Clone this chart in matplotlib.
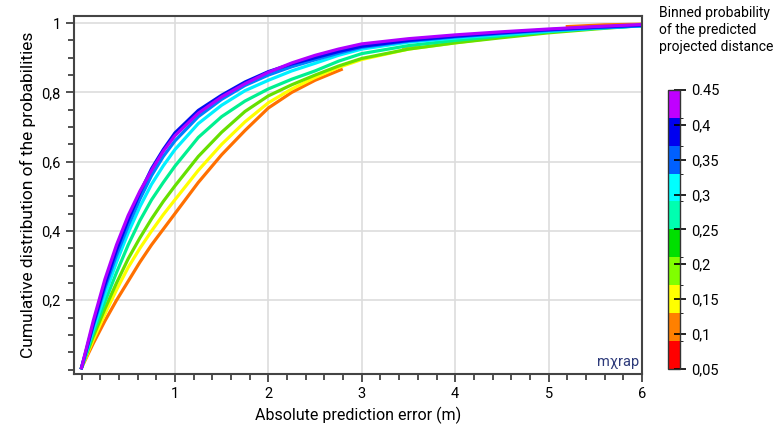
import numpy as np
import matplotlib
matplotlib.use("Agg")
import matplotlib.pyplot as plt
from matplotlib.colors import ListedColormap, BoundaryNorm
from matplotlib.ticker import MultipleLocator, FixedLocator, FixedFormatter

plt.rcParams["font.family"] = ["Roboto", "DejaVu Sans"]

# Absolute prediction error (m) where the curves were read
err = [0, 0.125, 0.25, 0.375, 0.5, 0.625, 0.75, 0.875, 1, 1.25, 1.5, 1.75, 2,
       2.25, 2.5, 2.75, 3, 3.5, 4, 4.5, 5, 5.5, 6]

# Cumulative distribution per probability bin
cdf_yellow = [0.005, 0.085, 0.16, 0.23, 0.295, 0.35, 0.40, 0.447, 0.49, 0.575, 0.65, 0.715, 0.77,
              0.81, 0.843, 0.872, 0.895, 0.925, 0.943, 0.96, 0.975, 0.986, 0.995]
cdf_lime = [0.005, 0.095, 0.175, 0.25, 0.32, 0.38, 0.435, 0.485, 0.53, 0.615, 0.685, 0.745, 0.79,
            0.822, 0.85, 0.876, 0.898, 0.925, 0.943, 0.958, 0.972, 0.983, 0.993]
cdf_spring = [0.005, 0.105, 0.195, 0.28, 0.36, 0.43, 0.49, 0.54, 0.587, 0.67, 0.73, 0.775, 0.81,
              0.838, 0.862, 0.89, 0.912, 0.935, 0.95, 0.963, 0.975, 0.985, 0.993]
cdf_cyan = [0.005, 0.115, 0.215, 0.31, 0.395, 0.47, 0.535, 0.588, 0.635, 0.71, 0.763, 0.805, 0.835,
            0.862, 0.884, 0.907, 0.925, 0.945, 0.957, 0.967, 0.977, 0.985, 0.992]
cdf_azure = [0.005, 0.125, 0.235, 0.33, 0.415, 0.492, 0.56, 0.615, 0.66, 0.73, 0.78, 0.82, 0.85,
             0.874, 0.894, 0.913, 0.93, 0.948, 0.96, 0.97, 0.979, 0.986, 0.992]
cdf_blue = [0.005, 0.13, 0.245, 0.345, 0.432, 0.51, 0.58, 0.635, 0.683, 0.748, 0.792, 0.83, 0.86,
            0.882, 0.900, 0.918, 0.933, 0.95, 0.962, 0.972, 0.981, 0.988, 0.994]
cdf_purple = [0.005, 0.14, 0.26, 0.36, 0.445, 0.515, 0.575, 0.63, 0.675, 0.74, 0.787, 0.825, 0.858,
              0.885, 0.907, 0.925, 0.940, 0.955, 0.966, 0.975, 0.983, 0.99, 0.996]

# orange bin has gaps (sparse data)
err_orange = [0, 0.125, 0.25, 0.375, 0.5, 0.625, 0.75, 0.875, 1, 1.25, 1.5, 1.75, 2,
              2.25, 2.5, 2.78, np.nan, 3.45, 3.6, np.nan, 5.2, 5.6, 6.0]
cdf_orange = [0.005, 0.075, 0.14, 0.20, 0.255, 0.31, 0.36, 0.405, 0.45, 0.54, 0.62, 0.69, 0.755,
              0.80, 0.835, 0.866, np.nan, 0.925, 0.93, np.nan, 0.99, 0.995, 0.997]

# colour bins
bin_edges = [0.05, 0.09, 0.13, 0.17, 0.21, 0.25, 0.29, 0.33, 0.37, 0.41, 0.45]
bin_colors = ["#ff0000", "#ff8000", "#ffff00", "#80ff00", "#00e000",
              "#00ffb0", "#00ffff", "#0060ff", "#0000f0", "#c000ff"]
cbar_ticks = [0.05, 0.1, 0.15, 0.2, 0.25, 0.3, 0.35, 0.4, 0.45]
cbar_labels = ["0,05", "0,1", "0,15", "0,2", "0,25", "0,3", "0,35", "0,4", "0.45"]

fig = plt.figure(figsize=(7.76, 4.26), dpi=100)
ax = fig.add_axes([0.0954, 0.122, 0.732, 0.840])

lw = 2.3
ax.plot(err_orange, cdf_orange, color="#ff7000", lw=lw)
ax.plot(err, cdf_yellow, color="#ffff00", lw=lw)
ax.plot(err, cdf_lime, color="#66e000", lw=lw)
ax.plot(err, cdf_spring, color="#00f090", lw=lw)
ax.plot(err, cdf_cyan, color="#00f0ff", lw=lw)
ax.plot(err, cdf_azure, color="#0080ff", lw=lw)
ax.plot(err, cdf_blue, color="#0010f0", lw=lw)
ax.plot(err, cdf_purple, color="#b000ff", lw=lw)

ax.set_xlim(-0.08, 6.0)
ax.set_ylim(-0.013, 1.02)

ax.xaxis.set_major_locator(FixedLocator([1, 2, 3, 4, 5, 6]))
ax.xaxis.set_minor_locator(MultipleLocator(0.2))
ax.yaxis.set_major_locator(FixedLocator([0.2, 0.4, 0.6, 0.8, 1.0]))
ax.yaxis.set_major_formatter(FixedFormatter(["0,2", "0,4", "0,6", "0,8", "1"]))
ax.yaxis.set_minor_locator(MultipleLocator(0.05))
ax.tick_params(which="major", length=6, width=1.2, color="#333333", labelsize=10.5)
ax.tick_params(which="minor", length=4, width=1.2, color="#333333")
ax.grid(True, which="major", color="#dddddd", lw=1.2)
ax.set_axisbelow(True)
for s in ax.spines.values():
    s.set_color("#444444")
    s.set_linewidth(1.5)

ax.set_xlabel("Absolute prediction error (m)", fontsize=11.5)
ax.set_ylabel("Cumulative distribution of the probabilities", fontsize=12.5)

ax.text(0.995, 0.015, "mχrap", transform=ax.transAxes, ha="right", va="bottom",
        fontsize=10.5, color="#2d3a7a")

# colour bar
cmap = ListedColormap(bin_colors)
norm = BoundaryNorm(bin_edges, cmap.N)
cax = fig.add_axes([0.861, 0.134, 0.0155, 0.655])
sm = plt.cm.ScalarMappable(cmap=cmap, norm=norm)
cb = fig.colorbar(sm, cax=cax, ticks=cbar_ticks)
cb.ax.set_yticklabels(cbar_labels)
cb.ax.tick_params(direction="inout", length=9, width=1.2, labelsize=10.5)
cb.outline.set_edgecolor("#333333")
cb.outline.set_linewidth(1)
fig.text(0.849, 0.985, "Binned probability\nof the predicted\nprojected distance",
         ha="left", va="top", fontsize=10, linespacing=1.25)

fig.savefig("out.png", dpi=100)
